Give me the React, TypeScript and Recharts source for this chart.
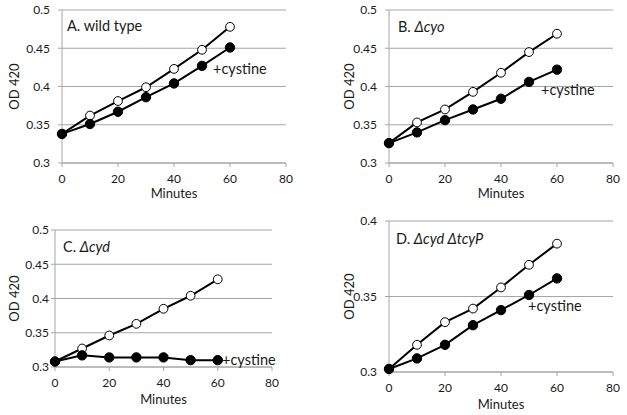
import { LineChart, Line, XAxis, YAxis, CartesianGrid } from 'recharts'

const minutes = [0, 10, 20, 30, 40, 50, 60]
const xTicks = [0, 20, 40, 60, 80]
const yTicks = [0.3, 0.35, 0.4, 0.45, 0.5]
const yTicksD = [0.3, 0.35, 0.4]

const wtControl = [0.338, 0.362, 0.381, 0.399, 0.423, 0.448, 0.478]
const wtCystine = [0.338, 0.351, 0.367, 0.386, 0.404, 0.427, 0.451]
const cyoControl = [0.326, 0.353, 0.37, 0.393, 0.418, 0.445, 0.469]
const cyoCystine = [0.326, 0.34, 0.356, 0.37, 0.384, 0.406, 0.422]
const cydControl = [0.308, 0.327, 0.346, 0.363, 0.385, 0.404, 0.428]
const cydCystine = [0.308, 0.317, 0.314, 0.314, 0.314, 0.31, 0.31]
const tcyControl = [0.302, 0.318, 0.333, 0.342, 0.356, 0.371, 0.385]
const tcyCystine = [0.302, 0.309, 0.318, 0.331, 0.341, 0.351, 0.362]

const FONT = 'Lato, "Open Sans", sans-serif'
const AXIS = '#a6a6a6'
const TEXT = '#1a1a1a'

type PanelProps = {
  left: number
  top: number
  width: number
  height: number
  margin: { top: number; right: number; left: number; bottom: number }
  yWidth: number
  yDomain: [number, number]
  ticks: number[]
  yTickMargin: number
  yLabelX: number
  xLabelDy: number
  control: number[]
  cystine: number[]
}

function Panel(p: PanelProps) {
  const data = minutes.map((m, i) => ({ m, control: p.control[i], cystine: p.cystine[i] }))
  const tick = { fontSize: 12, fill: TEXT, fontFamily: FONT }
  return (
    <div style={{ position: 'absolute', left: p.left, top: p.top }}>
      <LineChart width={p.width} height={p.height} data={data} margin={p.margin}>
        <CartesianGrid vertical={false} stroke={AXIS} />
        <XAxis
          dataKey="m"
          type="number"
          domain={[0, 80]}
          ticks={xTicks}
          height={40}
          stroke={AXIS}
          tickSize={4}
          tickMargin={7}
          tick={tick}
          label={{
            content: ({ viewBox }: any) => (
              <text x={viewBox.x + viewBox.width / 2} y={viewBox.y + p.xLabelDy} textAnchor="middle" dominantBaseline="central" fontSize={13} fill={TEXT} fontFamily={FONT}>
                Minutes
              </text>
            ),
          }}
        />
        <YAxis
          type="number"
          domain={p.yDomain}
          ticks={p.ticks}
          width={p.yWidth}
          stroke={AXIS}
          tickSize={4}
          tickMargin={p.yTickMargin}
          tick={tick}
          tickFormatter={(v) => String(v)}
          label={{
            content: ({ viewBox }: any) => {
              const cy = viewBox.y + viewBox.height / 2
              return (
                <text x={p.yLabelX} y={cy} transform={`rotate(-90 ${p.yLabelX} ${cy})`} textAnchor="middle" dominantBaseline="central" fontSize={13} fill={TEXT} fontFamily={FONT}>
                  OD 420
                </text>
              )
            },
          }}
        />
        <Line dataKey="control" stroke="#000" strokeWidth={2} isAnimationActive={false} dot={{ r: 4.4, fill: '#fff', stroke: '#000', strokeWidth: 1 }} />
        <Line dataKey="cystine" stroke="#000" strokeWidth={2} isAnimationActive={false} dot={{ r: 4.7, fill: '#000', stroke: '#000', strokeWidth: 1 }} />
      </LineChart>
    </div>
  )
}

const label = (x: number, y: number, children: any) => (
  <div style={{ position: 'absolute', left: x, top: y, transform: 'translateY(-50%)', fontSize: 14.5, fontFamily: FONT, color: TEXT, whiteSpace: 'nowrap', lineHeight: 1 }}>
    {children}
  </div>
)

export default function App() {
  return (
    <div style={{ position: 'absolute', left: 0, top: 0, width: 627, height: 415, background: '#fff', overflow: 'hidden' }}>
      <Panel left={0} top={0} width={300} height={203} margin={{ top: 10, right: 14, left: 12, bottom: 0 }} yWidth={50} yDomain={[0.3, 0.5]} ticks={yTicks} yTickMargin={8} yLabelX={14} xLabelDy={30} control={wtControl} cystine={wtCystine} />
      <Panel left={313} top={0} width={314} height={203} margin={{ top: 10, right: 14, left: 26, bottom: 0 }} yWidth={50} yDomain={[0.3, 0.5]} ticks={yTicks} yTickMargin={8} yLabelX={36} xLabelDy={30} control={cyoControl} cystine={cyoCystine} />
      <Panel left={0} top={207} width={300} height={200} margin={{ top: 23, right: 28, left: 12, bottom: 0 }} yWidth={43} yDomain={[0.3, 0.5]} ticks={yTicks} yTickMargin={2} yLabelX={14} xLabelDy={32} control={cydControl} cystine={cydCystine} />
      <Panel left={313} top={207} width={314} height={205} margin={{ top: 14, right: 14, left: 26, bottom: 0 }} yWidth={50} yDomain={[0.3, 0.4]} ticks={yTicksD} yTickMargin={8} yLabelX={36} xLabelDy={32} control={tcyControl} cystine={tcyCystine} />

      {label(67, 26, 'A. wild type')}
      {label(213, 69, '+cystine')}
      {label(398, 27, <>B. <i>Δcyo</i></>)}
      {label(541, 90, '+cystine')}
      {label(63, 247, <>C. <i>Δcyd</i></>)}
      {label(222, 360, '+cystine')}
      {label(396, 239, <>D. <i>Δcyd ΔtcyP</i></>)}
      {label(528, 306, '+cystine')}
    </div>
  )
}
